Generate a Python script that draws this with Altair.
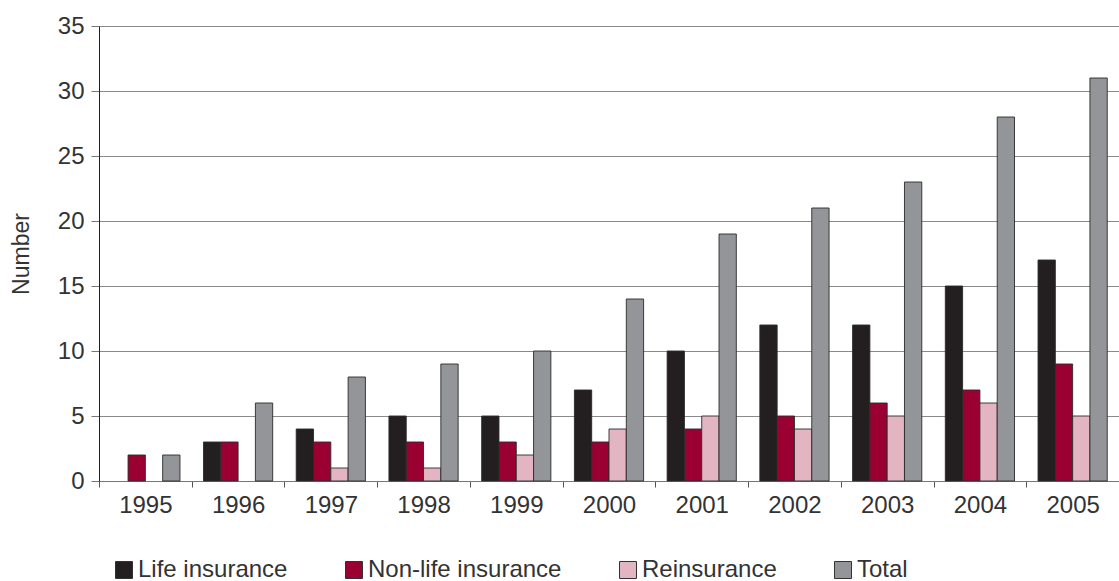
import altair as alt
import pandas as pd

years = ["1995", "1996", "1997", "1998", "1999", "2000", "2001", "2002", "2003", "2004", "2005"]
life = [0, 3, 4, 5, 5, 7, 10, 12, 12, 15, 17]
nonlife = [2, 3, 3, 3, 3, 3, 4, 5, 6, 7, 9]
reins = [0, 0, 1, 1, 2, 4, 5, 4, 5, 6, 5]
total = [2, 6, 8, 9, 10, 14, 19, 21, 23, 28, 31]

series = ["Life insurance", "Non-life insurance", "Reinsurance", "Total"]
colors = ["#231f20", "#9b0033", "#e3b5c3", "#939598"]

rows = []
for name, vals in zip(series, [life, nonlife, reins, total]):
    for y, v in zip(years, vals):
        rows.append({"Year": y, "Series": name, "Value": v})
df = pd.DataFrame(rows)
df = df[df["Value"] > 0]

font = "Liberation Sans"

chart = alt.Chart(df).mark_bar(stroke="#2a2a2a", strokeWidth=0.9).encode(
    x=alt.X("Year:N", sort=years, title=None,
            scale=alt.Scale(domain=years, paddingInner=0, paddingOuter=0),
            axis=alt.Axis(labelAngle=0, tickBand="extent", tickSize=6, tickColor="#555555",
                          domainColor="#777777", labelFontSize=24, labelColor="#333333",
                          labelFont=font, labelPadding=6, grid=False)),
    xOffset=alt.XOffset("Series:N", sort=series,
                        scale=alt.Scale(domain=series, paddingInner=0, paddingOuter=0.68)),
    y=alt.Y("Value:Q", title="Number",
            scale=alt.Scale(domain=[0, 35], nice=False),
            axis=alt.Axis(values=[0, 5, 10, 15, 20, 25, 30, 35], tickSize=8, tickColor="#777777",
                          domainColor="#231f20", gridColor="#8a8a8a", gridWidth=1,
                          labelFontSize=24, labelColor="#333333", labelFont=font,
                          labelPadding=7, titleFontSize=23, titleFontWeight="normal",
                          titleColor="#333333", titleFont=font, titlePadding=24)),
    color=alt.Color("Series:N", sort=series,
                    scale=alt.Scale(domain=series, range=colors),
                    legend=alt.Legend(title=None, orient="none", legendX=13, legendY=532,
                                      direction="horizontal", symbolType="square",
                                      symbolSize=289, symbolStrokeColor="#333333",
                                      symbolStrokeWidth=1, labelFontSize=24,
                                      labelColor="#333333", labelFont=font, labelLimit=400,
                                      columnPadding=54, labelOffset=2)),
).properties(
    width=1020,
    height=455,
    padding={"left": 99, "top": 26, "right": 0, "bottom": 100},
    autosize=alt.AutoSizeParams(type="none"),
).configure_view(stroke=None).configure(background="white")

chart.save("out.html", embed_options={"renderer": "svg", "actions": False})
